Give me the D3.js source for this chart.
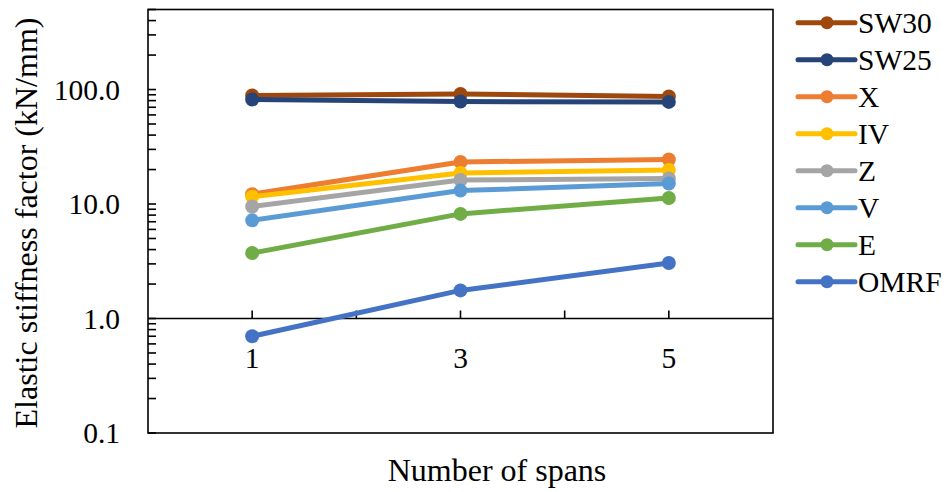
<!DOCTYPE html>
<html>
<head>
<meta charset="utf-8">
<script src="https://cdn.jsdelivr.net/npm/d3@7"></script>
<style>
  body { margin: 0; background: #fff; }
  text { font-family: "Liberation Serif", "Times New Roman", serif; fill: #000; }
</style>
</head>
<body>
<div id="chart-container"></div>
<script>
// data
const spans = [1, 3, 5];
const seriesNames = ["SW30", "SW25", "X", "IV", "Z", "V", "E", "OMRF"];
const seriesColors = ["#9E480E", "#264478", "#ED7D31", "#FFC000", "#A5A5A5", "#5B9BD5", "#70AD47", "#4472C4"];
const sw30 = [88.7, 91.5, 87.0];
const sw25 = [81.9, 78.5, 78.0];
const xVals = [12.2, 23.3, 24.5];
const ivVals = [11.6, 18.7, 19.8];
const zVals = [9.5, 16.2, 16.7];
const vVals = [7.2, 13.1, 15.1];
const eVals = [3.73, 8.2, 11.3];
const omrf = [0.70, 1.76, 3.05];
const yTickValues = [0.1, 1, 10, 100];
const xTickValues = [1, 2, 3, 4, 5];
const xLabelValues = [1, 3, 5];

const allValues = [sw30, sw25, xVals, ivVals, zVals, vVals, eVals, omrf];

const width = 951;
const height = 492;
const plot = { left: 148, right: 773, top: 9.5, bottom: 433 };

const svg = d3.select("#chart-container")
    .append("svg")
    .attr("width", width)
    .attr("height", height);

// scales
const x = d3.scaleLinear().domain([0, 6]).range([plot.left, plot.right]);
const y = d3.scaleLog().domain([0.1, 500]).range([plot.bottom, plot.top]);

// frame
svg.append("rect")
    .attr("x", plot.left)
    .attr("y", plot.top)
    .attr("width", plot.right - plot.left)
    .attr("height", plot.bottom - plot.top)
    .attr("fill", "none")
    .attr("stroke", "#000")
    .attr("stroke-width", 1.6);

// y ticks (major + minor, inside)
const minorTicks = [];
[0.1, 1, 10, 100].forEach(base => {
    for (let k = 1; k <= 9; k++) {
        const v = base * k;
        if (v <= 500) minorTicks.push(v);
    }
});
svg.append("g")
    .selectAll("line")
    .data(minorTicks)
    .join("line")
    .attr("x1", plot.left)
    .attr("x2", plot.left + 8)
    .attr("y1", d => y(d))
    .attr("y2", d => y(d))
    .attr("stroke", "#000")
    .attr("stroke-width", 1.6);

svg.append("g")
    .selectAll("text")
    .data(yTickValues)
    .join("text")
    .attr("x", 120)
    .attr("y", d => y(d))
    .attr("dy", "0.34em")
    .attr("text-anchor", "end")
    .style("font-size", "29.5px")
    .text(d => d.toFixed(1));

// x axis crossing at 1.0
const xAxisY = y(1);
svg.append("line")
    .attr("x1", plot.left)
    .attr("x2", plot.right)
    .attr("y1", xAxisY)
    .attr("y2", xAxisY)
    .attr("stroke", "#000")
    .attr("stroke-width", 1.6);

svg.append("g")
    .selectAll("line")
    .data(xTickValues)
    .join("line")
    .attr("x1", d => x(d))
    .attr("x2", d => x(d))
    .attr("y1", xAxisY)
    .attr("y2", xAxisY - 8)
    .attr("stroke", "#000")
    .attr("stroke-width", 1.6);

svg.append("g")
    .selectAll("text")
    .data(xLabelValues)
    .join("text")
    .attr("x", d => x(d))
    .attr("y", 368)
    .attr("text-anchor", "middle")
    .style("font-size", "29.5px")
    .text(d => d);

// axis titles
svg.append("text")
    .attr("x", 497)
    .attr("y", 481)
    .attr("text-anchor", "middle")
    .style("font-size", "32px")
    .text("Number of spans");

svg.append("text")
    .attr("transform", `translate(37,${(18 + 428) / 2}) rotate(-90)`)
    .attr("text-anchor", "middle")
    .style("font-size", "32px")
    .text("Elastic stiffness factor (kN/mm)");

// series
const line = d3.line()
    .x((d, i) => x(spans[i]))
    .y(d => y(d));

allValues.forEach((vals, s) => {
    const g = svg.append("g");
    g.append("path")
        .datum(vals)
        .attr("d", line)
        .attr("fill", "none")
        .attr("stroke", seriesColors[s])
        .attr("stroke-width", 5)
        .attr("stroke-linejoin", "round");
    g.selectAll("circle")
        .data(vals)
        .join("circle")
        .attr("cx", (d, i) => x(spans[i]))
        .attr("cy", d => y(d))
        .attr("r", 7)
        .attr("fill", seriesColors[s]);
});

// legend
const legend = svg.append("g")
    .selectAll("g")
    .data(seriesNames)
    .join("g")
    .attr("transform", (d, i) => `translate(0,${22.7 + i * 37})`);

legend.append("line")
    .attr("x1", 798)
    .attr("x2", 855)
    .attr("stroke", (d, i) => seriesColors[i])
    .attr("stroke-width", 5)
    .attr("stroke-linecap", "round");

legend.append("circle")
    .attr("cx", 827)
    .attr("r", 6.5)
    .attr("fill", (d, i) => seriesColors[i]);

legend.append("text")
    .attr("x", 858)
    .attr("y", 0)
    .attr("dy", "0.34em")
    .style("font-size", "29.5px")
    .text(d => d);
</script>
</body>
</html>
